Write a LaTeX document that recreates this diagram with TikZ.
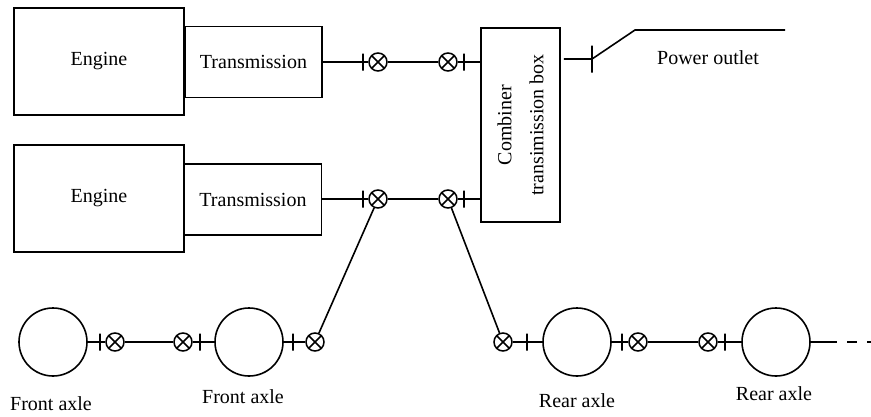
\documentclass[tikz,border=0pt]{standalone}
\usepackage{fontspec}
\setmainfont{Liberation Serif}
\begin{document}
\begin{tikzpicture}
[x=1pt,y=-1pt,line width=1.6pt,
every node/.style={font=\fontsize{20}{24}\selectfont},
engine/.style={draw,minimum width=170pt,minimum height=107pt},
gearbox/.style={draw,minimum width=137pt,minimum height=71pt},
clutch/.style={draw,circle,minimum size=18pt,inner sep=0pt,line width=1.5pt,
	path picture={\draw[line width=1.5pt] (path picture bounding box.south west) -- (path picture bounding box.north east)
	(path picture bounding box.north west) -- (path picture bounding box.south east);}},
joint/.style={draw,minimum width=0pt,minimum height=17pt,inner sep=0pt},
wheel/.style={draw,circle,minimum size=68pt,inner sep=0pt}]
	\useasboundingbox (0,0) rectangle (871,416);
	% engines and transmissions
	\node[engine] (e1) at (99,61.5) {Engine};
	\node[gearbox] (t1) at (253.5,62) {Transmission};
	\node[engine] (e2) at (99,198.5) {Engine};
	\node[gearbox] (t2) at (253,199.5) {Transmission};
	\node[draw,minimum width=79pt,minimum height=194pt] (comb) at (520.5,125) {};
	\node[rotate=90,align=center,font=\fontsize{20}{32}\selectfont] (combtext) at (comb.center) {Combiner\\transimission box};
	% upper shaft
	\node[joint] (j1) at (363,62) {};
	\node[clutch] (c1) at (378,62) {};
	\node[clutch] (c2) at (448,62) {};
	\node[joint] (j2) at (464,62) {};
	\draw (t1.east) -- (c1);
	\draw (c1) -- (c2);
	\draw (c2) -- (comb.west |- c2);
	% lower shaft
	\node[joint] (j3) at (363,199) {};
	\node[clutch] (c3) at (378,199) {};
	\node[clutch] (c4) at (448,199) {};
	\node[joint] (j4) at (464,199) {};
	\draw (t2.east |- c3) -- (c3);
	\draw (c3) -- (c4);
	\draw (c4) -- (comb.west |- c4);
	% power outlet
	\node[joint,minimum height=27pt] (j9) at (592,59) {};
	\coordinate (sw) at (635,30);
	\coordinate (outlet) at (785,30);
	\draw[shorten <=3pt] (comb.east |- j9) -- (j9.center) -- (sw) -- (outlet);
	\node (po) at (708,58) {Power outlet};
	% front axles
	\node[wheel] (w1) at (53,342) {};
	\node[joint] (j5) at (100,342) {};
	\node[clutch] (c5) at (115,342) {};
	\node[clutch] (c6) at (183,342) {};
	\node[joint] (j6) at (200,342) {};
	\node[wheel] (w2) at (249,342) {};
	\node[joint] (j7) at (293,342) {};
	\node[clutch] (c7) at (315,342) {};
	\draw (w1) -- (c5);
	\draw (c5) -- (c6);
	\draw (c6) -- (w2);
	\draw (w2) -- (c7);
	\draw (c7) -- (c3);
	% rear axles
	\node[clutch] (c8) at (503,342) {};
	\node[joint] (j8) at (527,342) {};
	\node[wheel] (w3) at (577,342) {};
	\node[joint] (j10) at (622,342) {};
	\node[clutch] (c9) at (638,342) {};
	\node[clutch] (c10) at (708,342) {};
	\node[joint] (j11) at (725,342) {};
	\node[wheel] (w4) at (776,342) {};
	\coordinate (tail) at (837,342);
	\coordinate (tailend) at (871,342);
	\draw (c4) -- (c8);
	\draw (c8) -- (w3);
	\draw (w3) -- (c9);
	\draw (c9) -- (c10);
	\draw (c10) -- (w4);
	\draw (w4) -- (tail);
	\draw[dash pattern=on 10pt off 10pt,dash phase=10pt] (tail) -- (tailend);
	% labels
	\node (l1) at (51,404) {Front axle};
	\node (l2) at (243,397) {Front axle};
	\node (l3) at (577,401) {Rear axle};
	\node (l4) at (774,394) {Rear axle};
\end{tikzpicture}
\end{document}
